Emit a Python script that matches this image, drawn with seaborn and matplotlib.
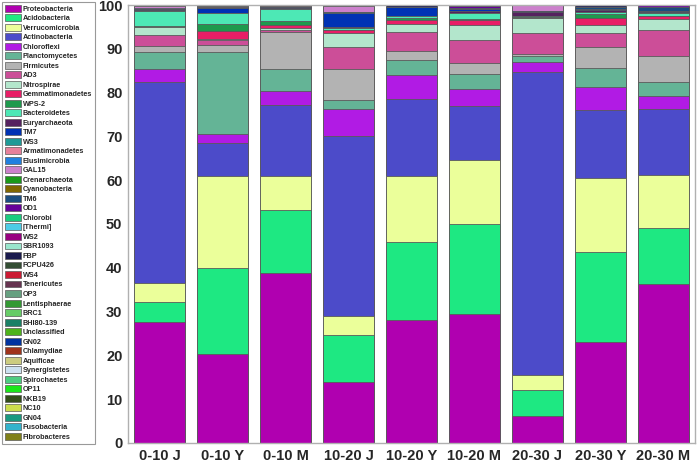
import matplotlib
matplotlib.use("Agg")
import matplotlib.pyplot as plt
import matplotlib.patches as mpatches
import numpy as np
import pandas as pd
import seaborn as sns

samples = ['0-10 J', '0-10 Y', '0-10 M', '10-20 J', '10-20 Y', '10-20 M',
           '20-30 J', '20-30 Y', '20-30 M']

phyla = ['Proteobacteria', 'Acidobacteria', 'Verrucomicrobia', 'Actinobacteria',
         'Chloroflexi', 'Planctomycetes', 'Firmicutes', 'AD3', 'Nitrospirae',
         'Gemmatimonadetes', 'WPS-2', 'Bacteroidetes', 'Euryarchaeota', 'TM7',
         'WS3', 'Armatimonadetes', 'Elusimicrobia', 'GAL15', 'Crenarchaeota',
         'Cyanobacteria', 'TM6', 'OD1', 'Chlorobi', '[Thermi]', 'WS2', 'SBR1093',
         'FBP', 'FCPU426', 'WS4', 'Tenericutes', 'OP3', 'Lentisphaerae', 'BRC1',
         'BHI80-139', 'Unclassified', 'GN02', 'Chlamydiae', 'Aquificae',
         'Synergistetes', 'Spirochaetes', 'OP11', 'NKB19', 'NC10', 'GN04',
         'Fusobacteria', 'Fibrobacteres']

colors = ['#b000b0', '#1ee882', '#ebff9a', '#4c4bc9', '#b11be4', '#64b496',
          '#b3b3b3', '#cc4e98', '#b3e6cc', '#e81e66', '#1e9a4d', '#4de8b5',
          '#55225f', '#0032b4', '#1e9a96', '#e6809a', '#2080e0', '#cc80cc',
          '#1a991a', '#806600', '#1a4d80', '#660099', '#1acc80', '#4dcce6',
          '#990080', '#99e6cc', '#1a1a4d', '#334d33', '#cc1a33', '#663350',
          '#66a080', '#339933', '#66cc66', '#1a8066', '#4db31a', '#0033a0',
          '#a0331a', '#cccc80', '#cce0f0', '#4dcc80', '#1ae61a', '#334d1a',
          '#ccdd4d', '#1a9980', '#33b3cc', '#808019']

# relative abundance (%) per sample, in legend order (Proteobacteria ... FBP)
j_0_10 = [27.7, 4.6, 4.3, 45.9, 3.0, 3.7, 1.5, 2.4, 1.9, 0, 0.2, 3.5, 0.2, 0.3,
          0, 0, 0.2, 0.4, 0, 0.2, 0, 0, 0, 0, 0, 0, 0]
y_0_10 = [20.4, 19.6, 20.9, 7.5, 2.1, 18.7, 1.7, 1.0, 0.3, 1.8, 1.7, 2.5, 0, 1.1,
          0, 0.3, 0, 0, 0, 0, 0.2, 0, 0, 0, 0, 0, 0.2]
m_0_10 = [38.9, 14.4, 7.6, 16.2, 3.2, 5.2, 8.3, 0.6, 0.3, 0.8, 0.9, 2.7, 0.15, 0.25,
          0, 0.3, 0, 0, 0, 0, 0, 0, 0, 0, 0, 0, 0.2]
j_10_20 = [14.0, 10.7, 4.4, 40.9, 6.2, 2.1, 7.2, 4.8, 3.4, 0.5, 0, 0.6, 0.2, 3.1,
           0.3, 0, 0, 1.4, 0, 0, 0, 0, 0, 0, 0, 0, 0.2]
y_10_20 = [28.1, 17.9, 14.9, 17.6, 5.5, 3.4, 2.0, 4.4, 1.9, 0.9, 0.5, 0.4, 0, 2.1,
           0, 0, 0, 0, 0, 0, 0, 0, 0, 0, 0, 0, 0.4]
m_10_20 = [29.5, 20.4, 14.6, 12.4, 4.0, 3.4, 2.4, 5.4, 3.4, 1.1, 0.3, 1.3, 0.4, 0.4,
           0, 0, 0, 0, 0, 0, 0.4, 0.3, 0, 0, 0, 0, 0.3]
j_20_30 = [6.2, 5.9, 3.5, 69.0, 2.3, 1.5, 0.5, 4.6, 3.5, 0, 0.2, 0.4, 0.8, 0.2,
           0, 0, 0, 1.4, 0, 0, 0, 0, 0, 0, 0, 0, 0]
y_20_30 = [23.1, 20.4, 17.1, 15.4, 5.2, 4.5, 4.6, 3.2, 2.0, 1.5, 0.9, 0.6, 0.3, 0.2,
           0, 0, 0, 0, 0, 0, 0.5, 0, 0, 0, 0, 0, 0.5]
m_20_30 = [36.4, 12.6, 12.1, 15.1, 3.0, 3.3, 5.8, 5.9, 2.6, 0.6, 0.2, 0.5, 0.3, 0.2,
           0, 0, 0, 0, 0, 0, 0.9, 0.5, 0, 0, 0, 0, 0]

cols = [j_0_10, y_0_10, m_0_10, j_10_20, y_10_20, m_10_20, j_20_30, y_20_30, m_20_30]
df = pd.DataFrame({s: v + [0] * (len(phyla) - len(v)) for s, v in zip(samples, cols)},
                  index=phyla)
cum = df.cumsum(axis=0)

sns.set_style('white')
plt.rcParams['font.family'] = ['Liberation Sans', 'DejaVu Sans']
plt.rcParams['font.weight'] = 'bold'

fig = plt.figure(figsize=(6.97, 4.63), dpi=100)
ax = fig.add_axes([0.1836, 0.0432, 0.8134, 0.9460])

edge = '#5a5a5a'
# stacked bars: draw cumulative totals from the top layer down
for k in range(len(phyla) - 1, -1, -1):
    sns.barplot(x=samples, y=cum.iloc[k].values, color=colors[k], saturation=1,
                width=0.8, edgecolor=edge, linewidth=0.6, errorbar=None, ax=ax)

ax.set_ylim(0, 100)
ax.set_xlim(-0.5, 8.5)
ax.set_yticks(np.arange(0, 101, 10))
ax.tick_params(axis='both', labelsize=10.5, direction='in', length=3,
               color='#999999', pad=4)
for lab in ax.get_xticklabels() + ax.get_yticklabels():
    lab.set_fontweight('bold')
for sp in ax.spines.values():
    sp.set_color('#b0b0b0')
    sp.set_linewidth(1.0)

handles = [mpatches.Patch(facecolor=c, edgecolor=edge, linewidth=0.5, label=p)
           for p, c in zip(phyla, colors)]
leg = fig.legend(handles=handles, loc='upper left', bbox_to_anchor=(0.003, 0.996),
                 fontsize=5.2, frameon=True, fancybox=False, edgecolor='#808080',
                 handlelength=2.2, handleheight=1.1, labelspacing=0.22,
                 handletextpad=0.25, borderpad=0.4, borderaxespad=0)
leg.get_frame().set_linewidth(0.8)
for t in leg.get_texts():
    t.set_fontweight('bold')

fig.savefig('out.png', dpi=100)
